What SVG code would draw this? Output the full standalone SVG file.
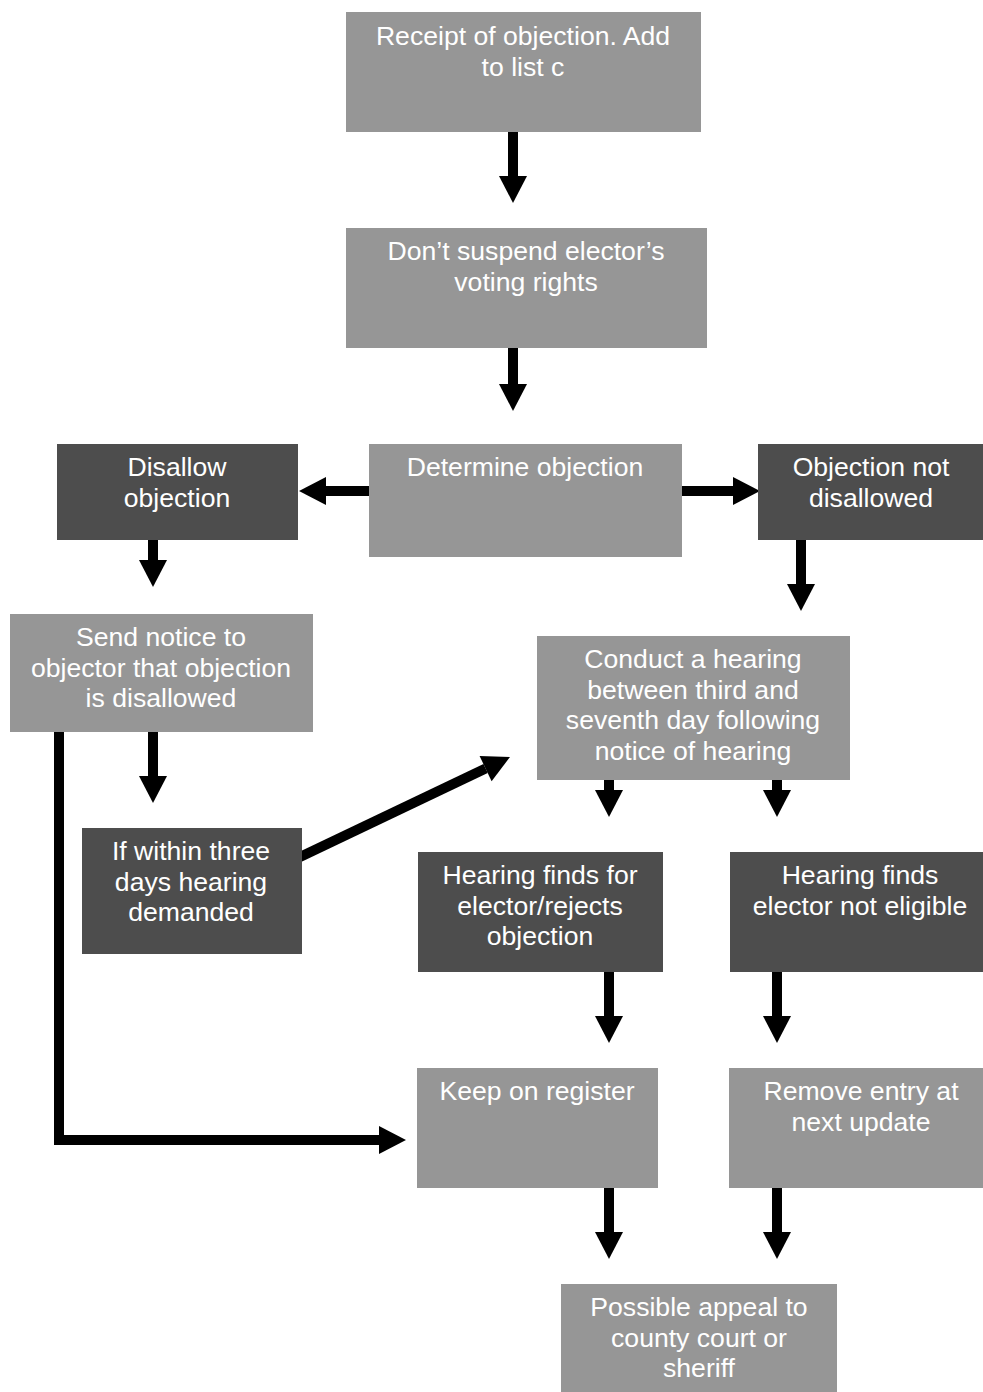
<svg xmlns="http://www.w3.org/2000/svg" width="983" height="1392" viewBox="0 0 983 1392">
<style>
.l{fill:#969696}
.d{fill:#4d4d4d}
text{font-family:"Liberation Sans",Arial,sans-serif;font-size:26.6px;fill:#ffffff;text-anchor:middle}
.c{fill:none;stroke:#000;stroke-width:10;marker-end:url(#ah)}
</style>
<defs>
<marker id="ah" markerUnits="userSpaceOnUse" markerWidth="28" markerHeight="28" refX="0" refY="14" orient="auto" overflow="visible">
<path d="M0,0 L27,14 L0,28 Z" fill="#000"/>
</marker>
</defs>
<rect width="983" height="1392" fill="#fff"/>
<g id="connectors">
<path class="c" d="M513,132 V176"/>
<path class="c" d="M513,348 V384"/>
<path class="c" d="M372,491 H326"/>
<path class="c" d="M682,491 H733"/>
<path class="c" d="M153,540 V560"/>
<path class="c" d="M801,540 V584"/>
<path class="c" d="M153,732 V776"/>
<path class="c" d="M59,732 V1140 H379"/>
<path class="c" d="M300,857 L485.6,768.6"/>
<path class="c" d="M609,780 V790"/>
<path class="c" d="M777,780 V790"/>
<path class="c" d="M609,972 V1016"/>
<path class="c" d="M777,972 V1016"/>
<path class="c" d="M609,1188 V1232"/>
<path class="c" d="M777,1188 V1232"/>
</g>
<g id="n1"><rect class="l" x="346" y="12" width="355" height="120"/><text x="523" y="45">Receipt of objection. Add</text><text x="523" y="76">to list c</text></g>
<g id="n2"><rect class="l" x="346" y="228" width="361" height="120"/><text x="526" y="260">Don’t suspend elector’s</text><text x="526" y="291">voting rights</text></g>
<g id="n3"><rect class="l" x="369" y="444" width="313" height="113"/><text x="525" y="476">Determine objection</text></g>
<g id="n4"><rect class="d" x="57" y="444" width="241" height="96"/><text x="177" y="476">Disallow</text><text x="177" y="507">objection</text></g>
<g id="n5"><rect class="d" x="758" y="444" width="226" height="96"/><text x="871" y="476">Objection not</text><text x="871" y="507">disallowed</text></g>
<g id="n6"><rect class="l" x="10" y="614" width="303" height="118"/><text x="161" y="646">Send notice to</text><text x="161" y="677">objector that objection</text><text x="161" y="707">is disallowed</text></g>
<g id="n7"><rect class="l" x="537" y="636" width="313" height="144"/><text x="693" y="668">Conduct a hearing</text><text x="693" y="699">between third and</text><text x="693" y="729">seventh day following</text><text x="693" y="760">notice of hearing</text></g>
<g id="n8"><rect class="d" x="82" y="828" width="220" height="126"/><text x="191" y="860">If within three</text><text x="191" y="891">days hearing</text><text x="191" y="921">demanded</text></g>
<g id="n9"><rect class="d" x="418" y="852" width="245" height="120"/><text x="540" y="884">Hearing finds for</text><text x="540" y="915">elector/rejects</text><text x="540" y="945">objection</text></g>
<g id="n10"><rect class="d" x="730" y="852" width="263" height="120"/><text x="860" y="884">Hearing finds</text><text x="860" y="915">elector not eligible</text></g>
<g id="n11"><rect class="l" x="417" y="1068" width="241" height="120"/><text x="537" y="1100">Keep on register</text></g>
<g id="n12"><rect class="l" x="729" y="1068" width="264" height="120"/><text x="861" y="1100">Remove entry at</text><text x="861" y="1131">next update</text></g>
<g id="n13"><rect class="l" x="561" y="1284" width="276" height="108"/><text x="699" y="1316">Possible appeal to</text><text x="699" y="1347">county court or</text><text x="699" y="1377">sheriff</text></g>
</svg>
